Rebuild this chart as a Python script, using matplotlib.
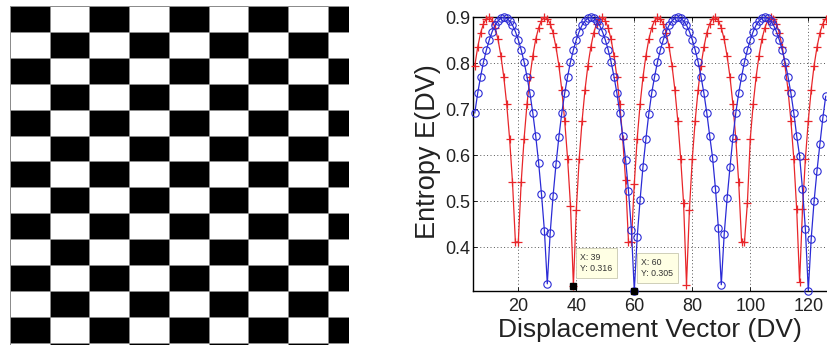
import numpy as np
import matplotlib
matplotlib.use("Agg")
import matplotlib.pyplot as plt

plt.rcParams['font.family'] = ['Liberation Sans', 'DejaVu Sans']

# displacement vector values (x axis)
dv = list(range(5, 127))

# entropy along the first direction (blue, circles)
entropy_blue = [
    0.692, 0.735, 0.771, 0.803, 0.829, 0.851, 0.869, 0.883, 0.892, 0.898,   # 5-14
    0.900, 0.898, 0.892, 0.883, 0.869, 0.851, 0.829, 0.803, 0.771, 0.735,   # 15-24
    0.692, 0.642, 0.584, 0.515, 0.436, 0.320, 0.431, 0.512, 0.580, 0.640,   # 25-34
    0.692, 0.735, 0.771, 0.803, 0.829, 0.851, 0.869, 0.883, 0.892, 0.898,   # 35-44
    0.900, 0.898, 0.892, 0.883, 0.869, 0.851, 0.829, 0.803, 0.771, 0.735,   # 45-54
    0.692, 0.642, 0.590, 0.522, 0.438, 0.305, 0.422, 0.503, 0.575, 0.635,   # 55-64
    0.690, 0.735, 0.771, 0.803, 0.829, 0.851, 0.869, 0.883, 0.892, 0.898,   # 65-74
    0.900, 0.898, 0.892, 0.883, 0.869, 0.851, 0.829, 0.803, 0.771, 0.735,   # 75-84
    0.692, 0.642, 0.594, 0.526, 0.441, 0.318, 0.428, 0.506, 0.574, 0.638,   # 85-94
    0.692, 0.735, 0.771, 0.803, 0.829, 0.851, 0.869, 0.883, 0.892, 0.898,   # 95-104
    0.900, 0.898, 0.892, 0.883, 0.869, 0.851, 0.829, 0.803, 0.771, 0.735,   # 105-114
    0.692, 0.642, 0.598, 0.526, 0.439, 0.305, 0.418, 0.500, 0.566, 0.624,   # 115-124
    0.680, 0.728,                                                           # 125-126
]

# entropy along the second direction (red, plus signs)
entropy_red = [
    0.795, 0.835, 0.866, 0.886, 0.897, 0.900, 0.893, 0.877, 0.852, 0.816,   # 5-14
    0.770, 0.711, 0.636, 0.541, 0.411, 0.411, 0.541, 0.636, 0.711, 0.770,   # 15-24
    0.816, 0.852, 0.877, 0.893, 0.900, 0.897, 0.886, 0.866, 0.835, 0.795,   # 25-34
    0.742, 0.675, 0.592, 0.490, 0.316, 0.480, 0.592, 0.675, 0.742, 0.795,   # 35-44
    0.835, 0.866, 0.886, 0.897, 0.900, 0.893, 0.877, 0.852, 0.816, 0.770,   # 45-54
    0.711, 0.636, 0.545, 0.411, 0.412, 0.538, 0.636, 0.711, 0.770, 0.816,   # 55-64
    0.852, 0.877, 0.893, 0.900, 0.897, 0.886, 0.866, 0.835, 0.795, 0.742,   # 65-74
    0.675, 0.592, 0.495, 0.318, 0.480, 0.592, 0.675, 0.742, 0.795, 0.835,   # 75-84
    0.866, 0.886, 0.897, 0.900, 0.893, 0.877, 0.852, 0.816, 0.770, 0.711,   # 85-94
    0.636, 0.541, 0.411, 0.412, 0.496, 0.636, 0.711, 0.770, 0.816, 0.852,   # 95-104
    0.877, 0.893, 0.900, 0.897, 0.886, 0.866, 0.835, 0.795, 0.742, 0.675,   # 105-114
    0.592, 0.482, 0.323, 0.482, 0.592, 0.675, 0.742, 0.795, 0.835, 0.866,   # 115-124
    0.886, 0.897,                                                           # 125-126
]

# data tips shown on the chart
tip_x = [39, 60]
tip_y = [0.316, 0.305]

x_ticks = [20, 40, 60, 80, 100, 120]
y_ticks = [0.4, 0.5, 0.6, 0.7, 0.8, 0.9]

W, H = 827, 345
fig = plt.figure(figsize=(W / 100, H / 100), dpi=100)

# checkerboard test image on the left
board_rows, board_cols = 14, 9
board = np.add.outer(np.arange(board_rows), np.arange(board_cols)) % 2
axb = fig.add_axes([10 / W, 0, 339 / W, 339 / H])
axb.pcolormesh(np.arange(board_cols + 1), np.arange(board_rows + 1), board,
               cmap='gray', vmin=0, vmax=1, edgecolors='#8c8c8c', linewidth=0.6)
axb.set_xlim(0, 339 / 39.7)
axb.set_ylim(339 / 25.9, 0)
axb.axis('off')

# entropy plot on the right
ax = fig.add_axes([473 / W, 1 - 290.7 / H, (W - 473) / W, (290.7 - 17.3) / H])
ax.plot(dv, entropy_red, color='#e8262a', lw=0.9, marker='+', ms=5.8, mew=0.9,
        clip_on=False, zorder=3)
ax.plot(dv, entropy_blue, color='#2b2bd6', lw=0.9, marker='o', ms=5.3, mew=0.8,
        mfc='none', clip_on=False, zorder=4)

ax.set_xlim(4.38, 126.45)
ax.set_ylim(0.305, 0.9)
ax.set_xticks(x_ticks)
ax.set_yticks(y_ticks)
ax.set_yticklabels([f'{v:.1f}' for v in y_ticks])
ax.grid(True, color='#555555', linestyle=(0, (1, 2.5)), linewidth=0.7)
ax.tick_params(direction='in', length=3, width=0.6, top=True,
               labelsize=13, labelcolor='#222222')
ax.tick_params(axis='x', pad=5)
ax.tick_params(axis='y', pad=2)
ax.spines['right'].set_visible(False)
for s in ['left', 'bottom', 'top']:
    ax.spines[s].set_linewidth(1.0)

for x, y in zip(tip_x, tip_y):
    ax.plot([x], [y], marker='s', color='black', ms=4.5, clip_on=False, zorder=6)
    ax.annotate(f'X: {x}\nY: {y:.3f}', xy=(x, y), xytext=(5, 9),
                textcoords='offset points', fontsize=6.3, color='#333333',
                ha='left', va='bottom', linespacing=1.35, zorder=7,
                bbox=dict(boxstyle='square,pad=0.5', fc='#ffffe4', ec='#c8c8b0', lw=0.6))

fig.text(650 / W, 1 - 337 / H, 'Displacement Vector (DV)', fontsize=19,
         color='#222222', ha='center', va='baseline')
fig.text(428 / W, 1 - 152 / H, 'Entropy E(DV)', fontsize=19.5, rotation=90,
         color='#222222', ha='center', va='center')

fig.savefig('out.png', dpi=100)
